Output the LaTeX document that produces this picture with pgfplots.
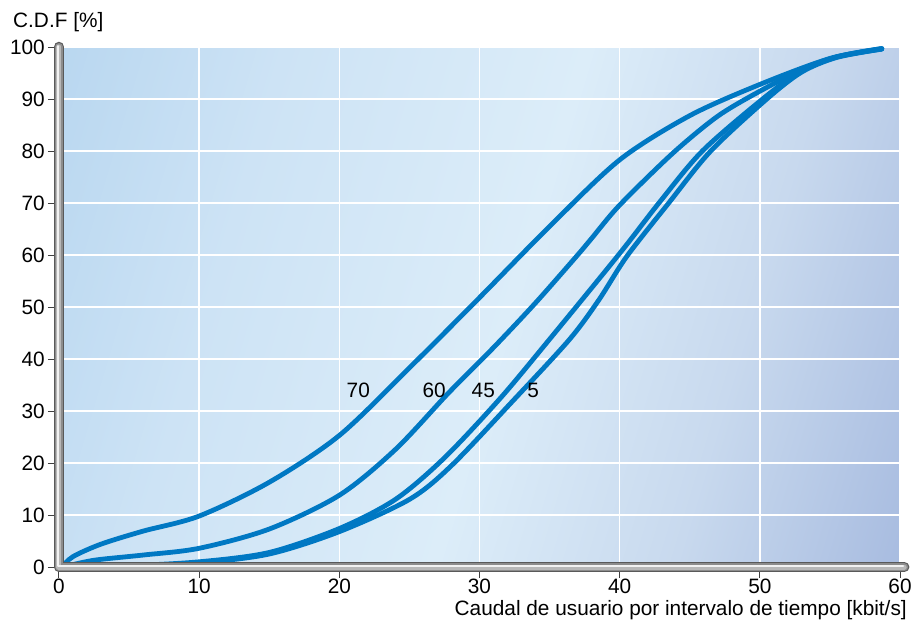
\documentclass[border=0pt]{standalone}
\usepackage{fontspec}
\setmainfont{Liberation Sans}
\usepackage{pgfplots}
\pgfplotsset{compat=1.18}

\definecolor{curve}{RGB}{0,120,195}
\definecolor{bgA}{HTML}{B9D7F0}
\definecolor{bgB}{HTML}{CDE3F5}
\definecolor{bgC}{HTML}{DCEDF9}
\definecolor{bgD}{HTML}{C8D9EE}
\definecolor{bgE}{HTML}{A8BCE0}
\pgfdeclarehorizontalshading{bgshade}{100bp}{color(0bp)=(bgA); color(19bp)=(bgA); color(33bp)=(bgB); color(52bp)=(bgC); color(67bp)=(bgD); color(81bp)=(bgE); color(100bp)=(bgE)}

\begin{document}
\fontsize{20.8}{25}\selectfont
\begin{tikzpicture}
\begin{axis}[
  scale only axis, width=841pt, height=520pt,
  xmin=0, xmax=60, ymin=0, ymax=100,
  xtick distance=10, ytick distance=10,
  axis background/.style={shade, shading=bgshade, shading angle=-16.6},
  axis line style={draw=none},
  grid=major, grid style={white, line width=1.4pt},
  tick pos=left, tick align=outside, major tick length=11pt,
  tick style={black!75, line width=1pt},
  /pgf/number format/assume math mode=true,
  xticklabel style={inner sep=0pt, yshift=-1pt},
  yticklabel style={inner sep=0pt, xshift=-3pt},
  xlabel={Caudal de usuario por intervalo de tiempo [kbit/s]},
  ylabel={C.D.F [\%]},
  every axis x label/.style={at={(rel axis cs:1,0)}, anchor=base east, inner sep=0pt, xshift=7pt, yshift=-48pt},
  every axis y label/.style={at={(rel axis cs:0,1)}, anchor=base west, inner sep=0pt, xshift=-46pt, yshift=19pt},
  clip=false,
  cdf/.style={curve, line width=4.8pt, smooth, no markers, line cap=round},
]
% 70
\addplot[cdf] coordinates {(0.2,0) (1,2) (3,4.4) (6,6.9) (10,9.8) (15,16.3) (20,25.3) (25,38.3) (30,51.8) (35,65.5) (40,78.3) (45,86.8) (50,92.8) (55,97.8) (58.7,99.7)};
% 60
\addplot[cdf] coordinates {(0.3,0) (2.5,1.3) (6,2.3) (10,3.6) (15,7.3) (20,13.8) (24,22.6) (27.8,33.5) (31,42.2) (34,50.8) (37,60) (38,63.2) (40,69.6) (43.8,79.6) (47,86.7) (50,91.5) (53,95.6) (55.5,98.1) (58.7,99.7)};
% 45
\addplot[cdf] coordinates {(0.5,0) (5,0.25) (10,1.0) (15,2.8) (20,7.4) (24,13) (27.5,21) (31.5,32.5) (35,43.8) (40,60.3) (42.8,70) (45.9,80) (50.2,90) (53,95.5) (55.5,98.1) (58.7,99.6)};
% 5
\addplot[cdf] coordinates {(1,0) (5,0.15) (10,0.8) (15,2.5) (20,6.8) (25,13) (28,19.5) (32.4,32) (36.4,43.7) (38.5,51.3) (40.5,59.7) (43.5,70) (46.5,80) (50.5,90) (53,95.2) (55.5,98) (58.7,99.6)};

\node at (axis cs:21.35,33.9) {70};
\node at (axis cs:26.77,33.9) {60};
\node at (axis cs:30.27,33.9) {45};
\node at (axis cs:33.83,33.9) {5};

% tube-like axis lines
\draw[line width=10.5pt, black!65, line cap=round, line join=round] (axis cs:0,100) -- (axis cs:0,0) -- (axis cs:60.3,0);
\draw[line width=8pt, black!45, line cap=round, line join=round] (axis cs:0,100) -- (axis cs:0,0) -- (axis cs:60.3,0);
\draw[line width=5pt, black!28, line cap=round, line join=round] (axis cs:0,100) -- (axis cs:0,0) -- (axis cs:60.3,0);
\draw[line width=2.2pt, black!5, line cap=round, line join=round, xshift=-1.2pt, yshift=0.8pt] (axis cs:0,100) -- (axis cs:0,0) -- (axis cs:60.3,0);
\end{axis}
\pgfresetboundingbox
\useasboundingbox (-59pt,-58pt) rectangle (856pt,567pt);
\end{tikzpicture}
\end{document}
